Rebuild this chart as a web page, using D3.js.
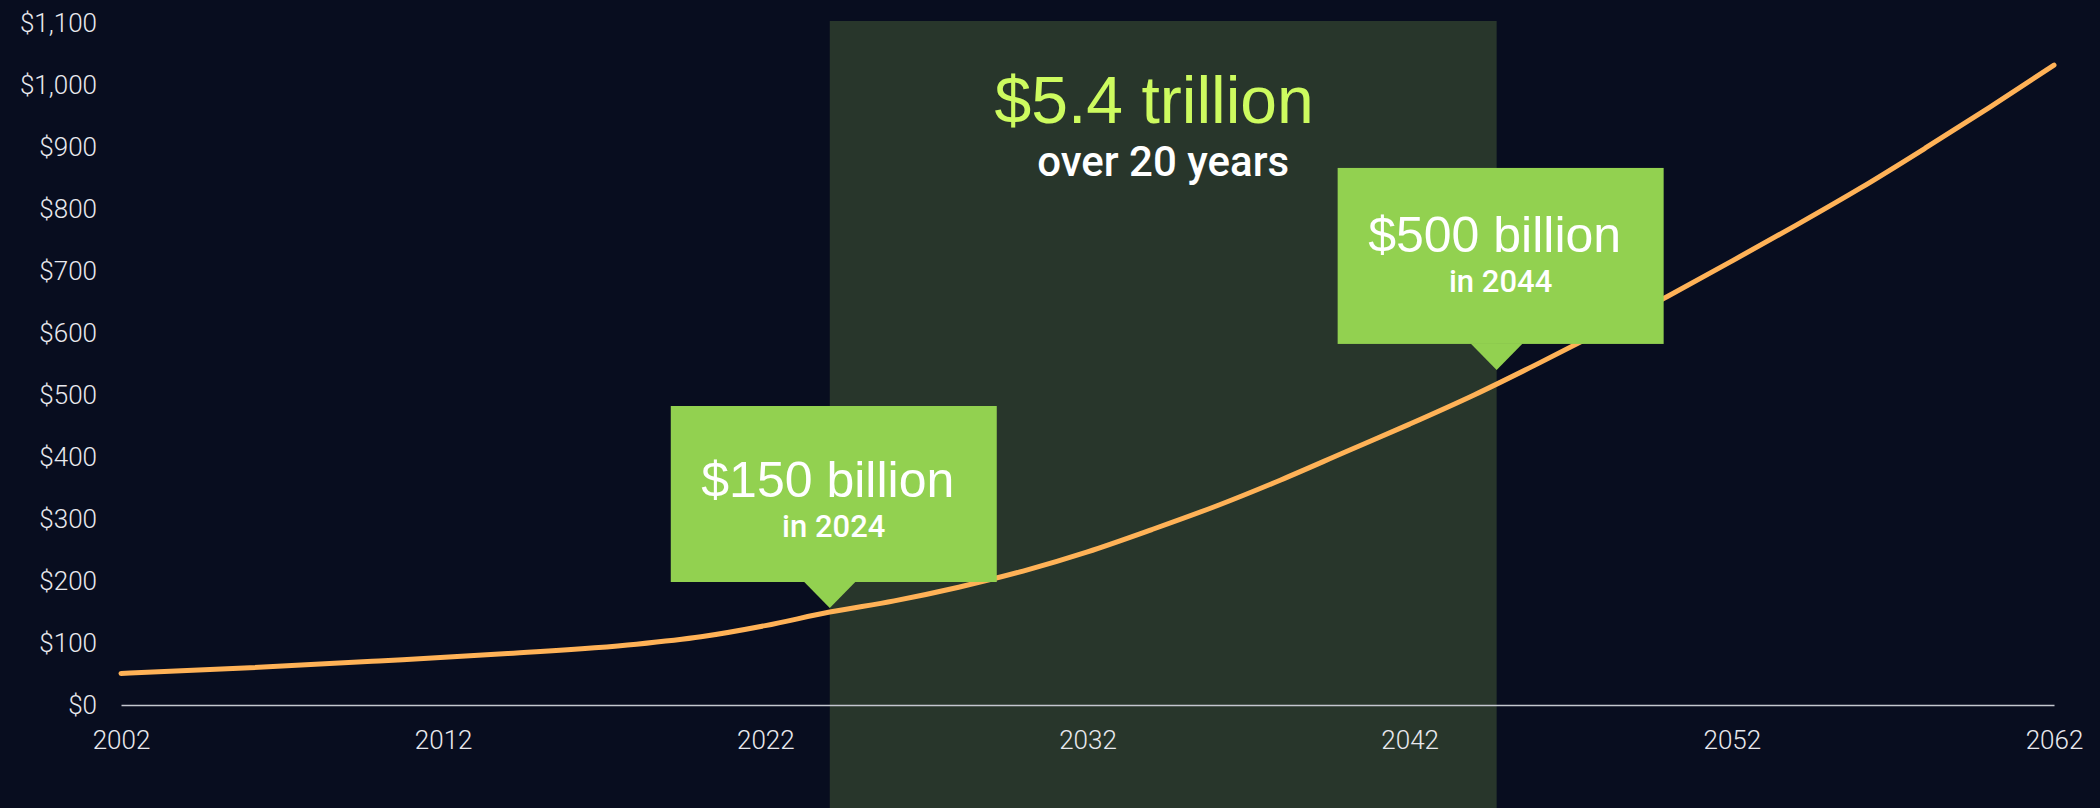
<!DOCTYPE html>
<html>
<head>
<meta charset="utf-8">
<script src="https://cdn.jsdelivr.net/npm/d3@7/dist/d3.min.js"></script>
<style>
  html, body { margin: 0; padding: 0; background: #080d1f; }
  svg { display: block; }
</style>
</head>
<body>
<svg id="chart" width="2100" height="808"></svg>
<script>
// Annual spending, billions of dollars
const years = [2002, 2006, 2010, 2014, 2018, 2020, 2022, 2024, 2026, 2028, 2030, 2032, 2034,
               2036, 2038, 2040, 2042, 2044, 2046, 2048, 2050, 2052, 2054, 2056, 2058, 2060, 2062];
const spending = [51, 60, 71, 83, 98, 110, 128, 150, 168, 190, 216, 247, 283,
                  321, 363, 408, 453, 500, 551, 604, 659, 716, 774, 834, 898, 964, 1032];

const yTickValues = [0, 100, 200, 300, 400, 500, 600, 700, 800, 900, 1000, 1100];
const xTickYears = [2002, 2012, 2022, 2032, 2042, 2052, 2062];

// Highlighted 20-year window
const windowYears = [2024, 2044.7];
const windowTitle = "$5.4 trillion";
const windowSubtitle = "over 20 years";

// Callouts pointing at the curve
const calloutYears = [2024, 2044.7];
const calloutTitles = ["$150 billion", "$500 billion"];
const calloutSubtitles = ["in 2024", "in 2044"];

const svg = d3.select("#chart");
const W = 2100, H = 808;

const x = d3.scaleLinear().domain([2002, 2062]).range([121, 2054]);
const y = d3.scaleLinear().domain([0, 1100]).range([705, 23]);

const axisFont = "Roboto, 'Liberation Sans', Arial, sans-serif";
const labelFont = "'Liberation Sans', Arial, Helvetica, sans-serif";
const mediumFont = "Roboto, 'Liberation Sans', Arial, sans-serif";

svg.append("rect").attr("width", W).attr("height", H).attr("fill", "#080d1f");

// Shaded window
svg.append("rect")
  .attr("x", x(windowYears[0]))
  .attr("y", 21)
  .attr("width", x(windowYears[1]) - x(windowYears[0]))
  .attr("height", H - 21)
  .attr("fill", "#28362b");

const bandCenter = (x(windowYears[0]) + x(windowYears[1])) / 2;
svg.append("text")
  .attr("x", bandCenter - 9).attr("y", 123)
  .attr("text-anchor", "middle")
  .attr("font-family", labelFont).attr("font-size", 66)
  .attr("fill", "#cdfb5f")
  .text(windowTitle);
svg.append("text")
  .attr("x", bandCenter).attr("y", 176)
  .attr("text-anchor", "middle")
  .attr("font-family", mediumFont).attr("font-size", 42).attr("font-weight", 500)
  .attr("fill", "#ffffff")
  .text(windowSubtitle);

// Y axis labels
const yAxis = d3.axisLeft(y)
  .tickValues(yTickValues)
  .tickSize(0)
  .tickPadding(0)
  .tickFormat(d => "$" + d3.format(",")(d));
const gy = svg.append("g").attr("transform", "translate(97,0)").call(yAxis);
gy.select(".domain").remove();
gy.selectAll("text")
  .attr("font-family", axisFont).attr("font-weight", 300).attr("font-size", 26)
  .attr("fill", "#e8e9ee");

// X axis
const xAxis = d3.axisBottom(x)
  .tickValues(xTickYears)
  .tickSize(0)
  .tickPadding(0)
  .tickFormat(d3.format("d"));
const gx = svg.append("g").attr("transform", `translate(0,${y(0)})`).call(xAxis);
gx.select(".domain")
  .attr("stroke", "#c4c7cf").attr("stroke-width", 1.5);
gx.selectAll("text")
  .attr("font-family", axisFont).attr("font-weight", 300).attr("font-size", 26)
  .attr("fill", "#e8e9ee")
  .attr("dy", null)
  .attr("y", 44);

// Spending curve
const series = years.map((yr, i) => ({ year: yr, value: spending[i] }));
const line = d3.line()
  .x(d => x(d.year))
  .y(d => y(d.value))
  .curve(d3.curveMonotoneX);
svg.append("path")
  .datum(series)
  .attr("d", line)
  .attr("fill", "none")
  .attr("stroke", "#ffb257")
  .attr("stroke-width", 5)
  .attr("stroke-linecap", "round")
  .attr("stroke-linejoin", "round");

// Callouts
const valueAt = d3.scaleLinear().domain(years).range(spending);
const boxW = 326, boxH = 176, notch = 26;
const tipGap = [4, 14];       // gap between pointer tip and curve
const titleDrop = [91, 84];   // title baseline below box top
calloutYears.forEach((yr, i) => {
  const tipX = x(yr);
  const tipY = y(valueAt(yr)) - tipGap[i];
  const cx = tipX + 4;
  const bottom = tipY - notch;
  const top = bottom - boxH;
  const g = svg.append("g");
  g.append("rect")
    .attr("x", cx - boxW / 2).attr("y", top)
    .attr("width", boxW).attr("height", boxH)
    .attr("fill", "#92d150");
  g.append("path")
    .attr("d", `M${tipX - notch},${bottom - 0.5} L${tipX + notch},${bottom - 0.5} L${tipX},${tipY} Z`)
    .attr("fill", "#92d150");
  g.append("text")
    .attr("x", cx - 6).attr("y", top + titleDrop[i])
    .attr("text-anchor", "middle")
    .attr("font-family", labelFont).attr("font-size", 50)
    .attr("fill", "#ffffff")
    .text(calloutTitles[i]);
  g.append("text")
    .attr("x", cx).attr("y", top + titleDrop[i] + 40)
    .attr("text-anchor", "middle")
    .attr("font-family", mediumFont).attr("font-size", 31).attr("font-weight", 500)
    .attr("fill", "#ffffff")
    .text(calloutSubtitles[i]);
});
</script>
</body>
</html>
